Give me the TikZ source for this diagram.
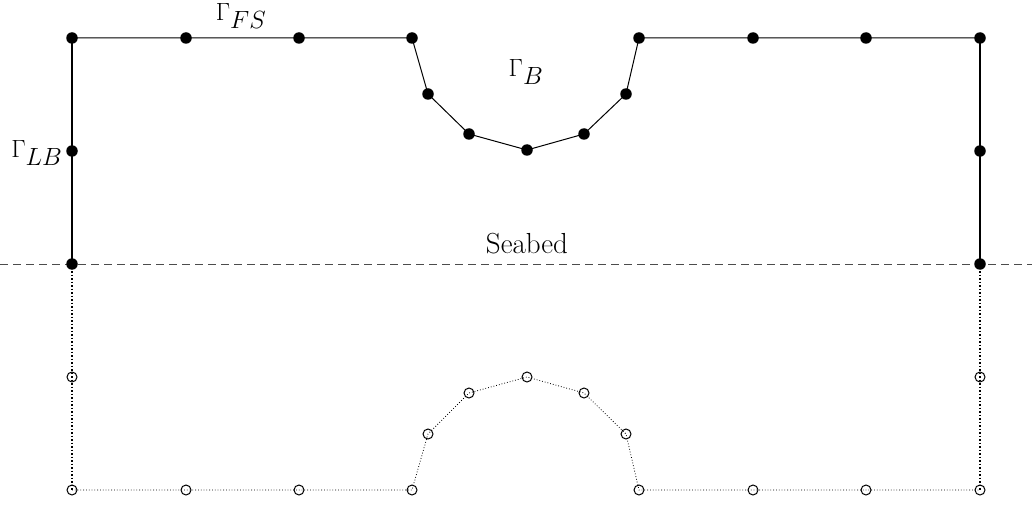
\documentclass[tikz,border=0pt]{standalone}
\begin{document}
\begin{tikzpicture}[x=1pt,y=-1pt,
  full/.style={circle,fill=black,inner sep=0pt,minimum size=11.5pt},
  open/.style={circle,draw=black,line width=1pt,fill=white,inner sep=0pt,minimum size=10pt},
  thin/.style={line width=1pt},
  thick2/.style={line width=2pt},
  dotline/.style={line width=0.8pt,dotted},
  lbl/.style={font=\fontsize{29}{34}\selectfont},
  glbl/.style={font=\fontsize{33}{38}\selectfont}]
\useasboundingbox (0,0) rectangle (1032,505);
\foreach \n/\x/\y in {a1/72/38,a2/186/38,a3/299/38,a4/412/38,a5/428/94,a6/469/134,a7/527/150,a8/584/134,a9/626/94,a10/639/38,a11/753/38,a12/866/38,a13/980/38,l1/72/151,l2/72/264,r1/980/151,r2/980/264}
  \coordinate (\n) at (\x,\y);
\foreach \n/\x/\y in {b1/72/490,b2/186/490,b3/299/490,b4/412/490,b5/428/434,b6/469/393,b7/527/377,b8/584/393,b9/626/434,b10/639/490,b11/753/490,b12/866/490,b13/980/490,m1/72/377,m2/980/377}
  \coordinate (\n) at (\x,\y);
\coordinate (dl) at (0,264);
\coordinate (dr) at (1032,264);
\draw[line width=1pt,draw=black!70,dash pattern=on 8pt off 5pt] (dl) -- (dr);
\draw[thin] (a1) -- (a2) -- (a3) -- (a4) -- (a5) -- (a6) -- (a7) -- (a8) -- (a9) -- (a10) -- (a11) -- (a12) -- (a13);
\draw[thick2] (a1) -- (l1) -- (l2);
\draw[thick2] (a13) -- (r1) -- (r2);
\foreach \n in {a1,a2,a3,a4,a5,a6,a7,a8,a9,a10,a11,a12,a13,l1,l2,r1,r2}
  \node[full] at (\n) {};
\foreach \n in {b1,b2,b3,b4,b5,b6,b7,b8,b9,b10,b11,b12,b13,m1,m2}
  \node[open] at (\n) {};
\draw[line width=1.5pt,dotted] (l2) -- (m1) -- (b1);
\draw[line width=1.5pt,dotted] (r2) -- (m2) -- (b13);
\draw[dotline] (b1) -- (b2) -- (b3) -- (b4) -- (b5) -- (b6) -- (b7) -- (b8) -- (b9) -- (b10) -- (b11) -- (b12) -- (b13);
\node[glbl] (gfs) at (241,16) {$\Gamma_{FS}$};
\node[glbl] (gb) at (526,72) {$\Gamma_{B}$};
\node[glbl,anchor=east] (glb) at (66,153) {$\Gamma_{LB}$};
\node[lbl] (sb) at (527,244) {Seabed};
\end{tikzpicture}
\end{document}
